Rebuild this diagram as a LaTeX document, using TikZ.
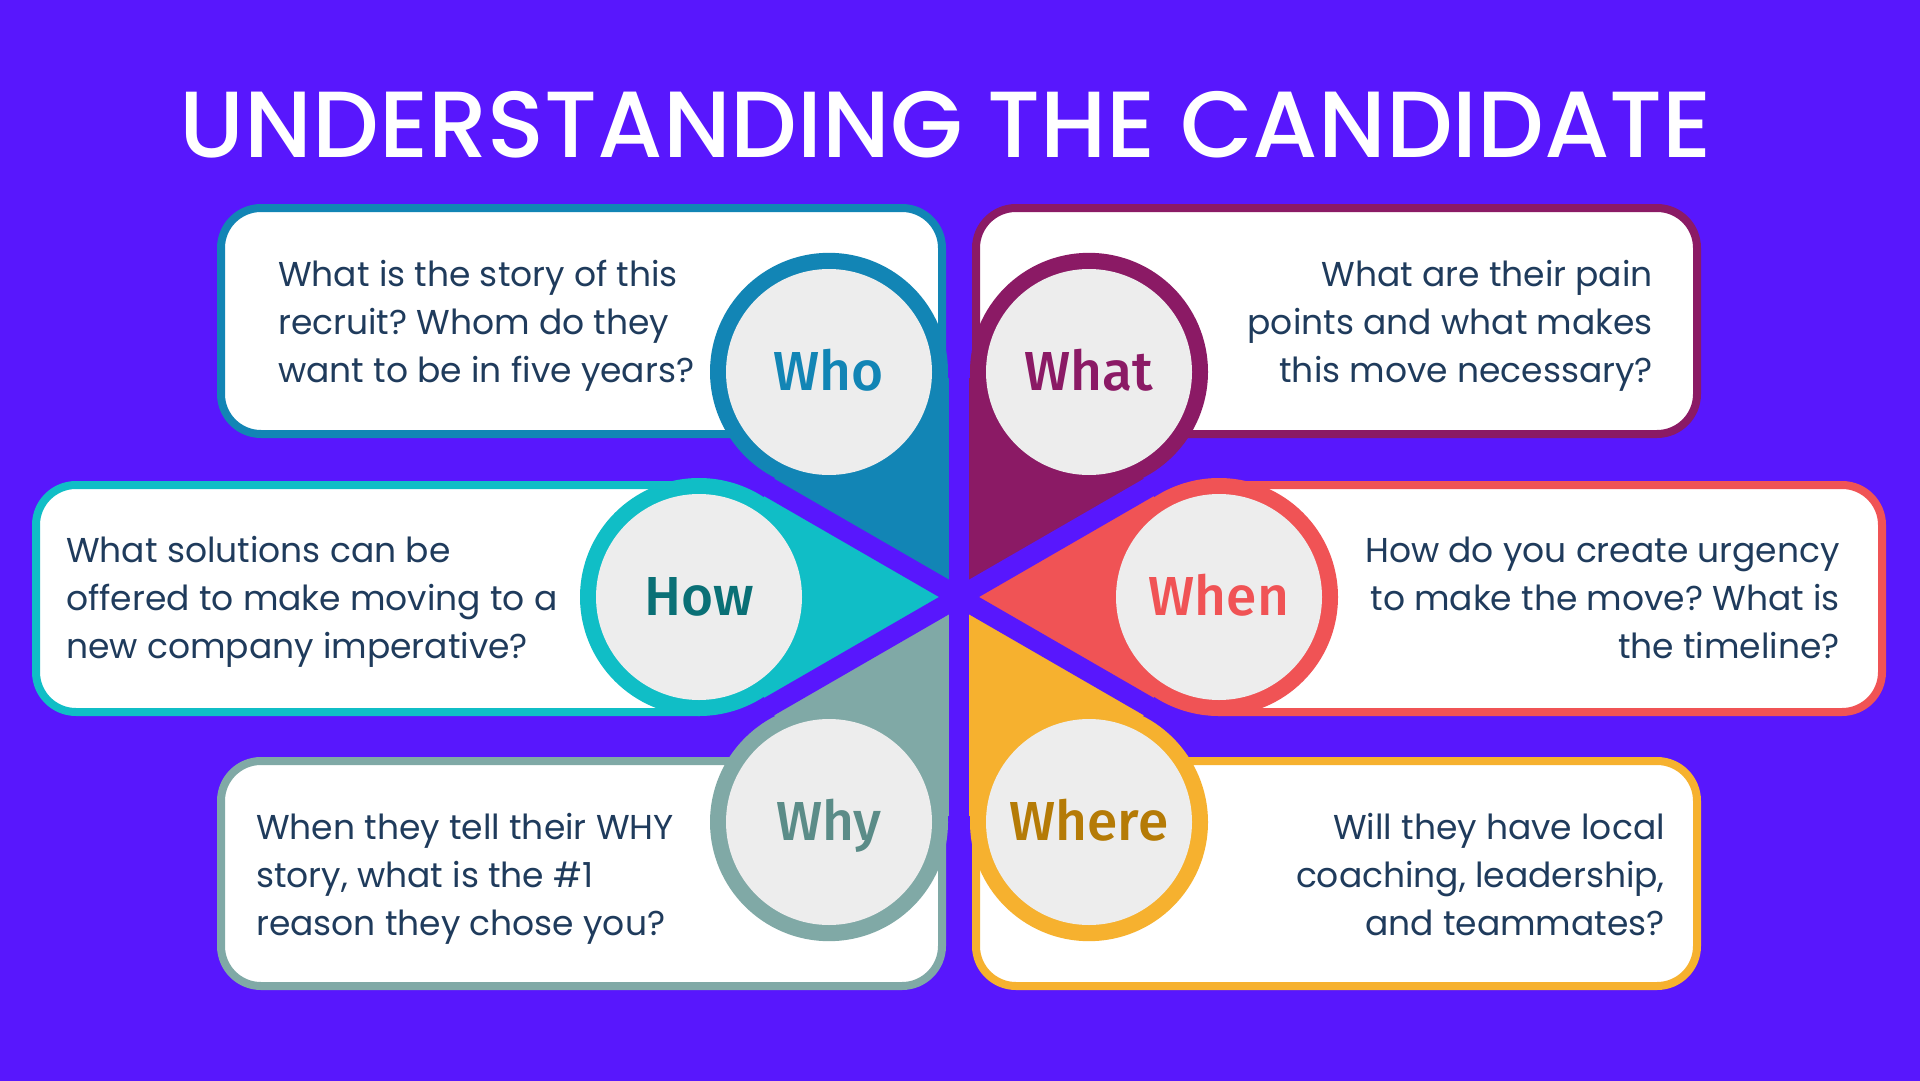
\documentclass[tikz,border=0pt]{standalone}
\usepackage{fontspec}
\setmainfont{Poppins}
\newfontfamily\titlefont{Poppins Medium}
\newfontfamily\badgefont{Fira Sans Medium}
\frenchspacing

\definecolor{bg}{HTML}{5817FD}
\definecolor{ink}{HTML}{1F3B5C}
\definecolor{discgray}{HTML}{EDEDED}
\definecolor{who}{HTML}{1285B5}
\definecolor{what}{HTML}{8B1A65}
\definecolor{how}{HTML}{10BEC6}
\definecolor{howtxt}{HTML}{0A7076}
\definecolor{when}{HTML}{F05355}
\definecolor{why}{HTML}{80A9A6}
\definecolor{whytxt}{HTML}{5B8C88}
\definecolor{where}{HTML}{F6B12F}
\definecolor{wheretxt}{HTML}{B57B06}

\tikzset{
    card/.style={draw=#1, line width=8pt, fill=white, rounded corners=40pt},
    badge/.style={circle, fill=discgray, minimum size=206pt, inner sep=0pt,
        text height=37pt, text depth=0pt,
        font=\badgefont\fontsize{55}{55}\selectfont, text=#1},
    question/.style={font=\fontsize{34.5}{48}\selectfont, text=ink, inner sep=0pt},
}

\begin{document}
\begin{tikzpicture}[x=1pt, y=-1pt]
    \fill[bg] (0,0) rectangle (1920,1081);
    \coordinate (C) at (959,597);
    \node[font=\titlefont\fontsize{94}{94}\selectfont, text=white, anchor=base] (title) at (946,157) {UNDERSTANDING THE CANDIDATE};

    \draw[card=who] (221,208) rectangle (942,434);
    \draw[card=what] (976,208) rectangle (1697,434);
    \draw[card=how] (36,485) rectangle (740,712);
    \draw[card=when] (1178,485) rectangle (1882,712);
    \draw[card=why] (221,761) rectangle (942,986);
    \draw[card=where] (976,761) rectangle (1697,986);

    \foreach \a/\c in {240/who, 300/what, 0/when, 60/where, 120/why, 180/how}{
        \fill[\c] (C) -- +(\a-30:225) -- +(\a+30:225) -- cycle;
        \fill[\c] (C) ++(\a:260) circle (119);
    }
    \foreach \a in {30,90,...,330}
        \draw[bg, line width=20pt] (C) -- +(\a:235);

    \node[badge=who] (who) at (829,372) {Who};
    \node[badge=what] (what) at (1089,372) {What};
    \node[badge=howtxt] (how) at (699,597) {How};
    \node[badge=when] (when) at (1219,597) {When};
    \node[badge=whytxt] (why) at (829,822) {Why};
    \node[badge=wheretxt] (where) at (1089,822) {Where};

    \node[question, align=left, anchor=base west] (whoq) at (278,382)
        {What is the story of this\\recruit? Whom do they\\want to be in five years?};
    \node[question, align=right, anchor=base east] (whatq) at (1653,382)
        {What are their pain\\points and what makes\\this move necessary?};
    \node[question, align=left, anchor=base west] (howq) at (66,658)
        {What solutions can be\\offered to make moving to a\\new company imperative?};
    \node[question, align=right, anchor=base east] (whenq) at (1840,658)
        {How do you create urgency\\to make the move? What is\\the timeline?};
    \node[question, align=left, anchor=base west] (whyq) at (256,935)
        {When they tell their WHY\\story, what is the \#1\\reason they chose you?};
    \node[question, align=right, anchor=base east] (whereq) at (1665,935)
        {Will they have local\\coaching, leadership,\\and teammates?};
\end{tikzpicture}
\end{document}
